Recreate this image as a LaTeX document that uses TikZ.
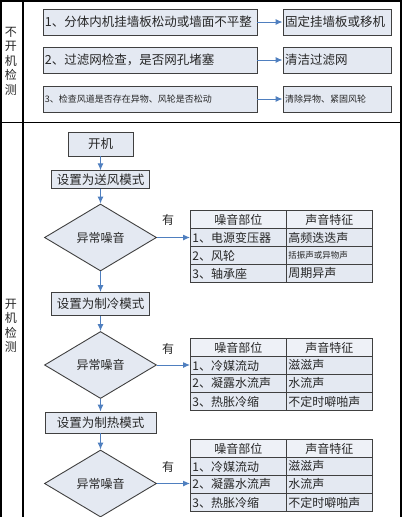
\documentclass[tikz,border=0pt]{standalone}
\usepackage{fontspec}
\setmainfont{Liberation Serif}
\newfontfamily\cjk{Noto Sans CJK SC}
\usetikzlibrary{shapes.geometric,arrows.meta}
\definecolor{boxfill}{HTML}{E4E9F2}
\definecolor{headfill}{HTML}{EEF1F7}
\definecolor{boxline}{HTML}{404040}
\definecolor{flowblue}{HTML}{4F7FBF}
\definecolor{inktext}{HTML}{262626}

\begin{document}
\begin{tikzpicture}[x=1pt, y=-1pt,
    checkbox/.style={draw=boxline, fill=boxfill, line width=0.9pt, text=inktext, inner xsep=2pt, inner ysep=0pt, minimum height=26pt, align=left, font=\cjk\fontsize{12.5}{15}\selectfont},
    flowbox/.style={draw=boxline, fill=boxfill, line width=0.9pt, text=inktext, inner sep=0pt, align=center, font=\cjk\fontsize{12.5}{15}\selectfont},
    decision/.style={diamond, draw=boxline, fill=boxfill, line width=0.9pt, text=inktext, inner sep=0pt, minimum width=112pt, minimum height=67pt, font=\cjk\fontsize{12}{14}\selectfont},
    cell/.style={draw=boxline, fill=boxfill, line width=0.9pt, text=inktext, anchor=north west, minimum height=18pt, inner xsep=2pt, inner ysep=0pt, align=left, font=\cjk\fontsize{12}{14}\selectfont},
    headcell/.style={cell, fill=headfill, align=center},
    colA/.style={text width=92pt},
    colB/.style={text width=82pt},
    side/.style={align=center, text=inktext, font=\cjk\fontsize{12}{14.5}\selectfont},
    frame/.style={line width=1.6pt, black},
    >={Latex[length=7pt,width=6pt]},
    flow/.style={->, flowblue, line width=1pt},
]
    \useasboundingbox (0,0) rectangle (403,517);

    % frame
    \draw[frame] (1,1) rectangle (401,520);
    \draw[frame] (23,1) -- (23,520);
    \draw[frame] (1,122.5) -- (401,122.5);

    \node[side] (offlbl) at (11,61) {不\\开\\机\\检\\测};
    \node[side] (onlbl) at (11,326) {开\\机\\检\\测};

    % checks without power
    \node[checkbox, text width=210pt] (c1) at (150,22) {1、分体内机挂墙板松动或墙面不平整};
    \node[checkbox, text width=104pt] (f1) at (337,22) {固定挂墙板或移机};
    \node[checkbox, text width=210pt] (c2) at (150,60) {2、过滤网检查，是否网孔堵塞};
    \node[checkbox, text width=104pt] (f2) at (337,60) {清洁过滤网};
    \node[checkbox, text width=210pt, font=\cjk\fontsize{9}{11}\selectfont] (c3) at (150,99) {3、检查风道是否存在异物、风轮是否松动};
    \node[checkbox, text width=104pt, font=\cjk\fontsize{9}{11}\selectfont] (f3) at (337,99) {清除异物、紧固风轮};

    \draw[flow] (c1) -- (f1);
    \draw[flow] (c2) -- (f2);
    \draw[flow] (c3) -- (f3);

    % checks with power
    \node[flowbox, minimum width=65pt, minimum height=24pt] (start) at (100.5,144) {开机};
    \node[flowbox, minimum width=98pt, minimum height=17.5pt] (fan) at (100.5,179.5) {设置为送风模式};
    \node[decision] (d1) at (100.5,237.5) {异常噪音};
    \node[flowbox, minimum width=98pt, minimum height=23pt] (cool) at (100.5,304) {设置为制冷模式};
    \node[decision] (d2) at (100.5,365) {异常噪音};
    \node[flowbox, minimum width=111pt, minimum height=21pt] (heat) at (100.5,422.5) {设置为制热模式};
    \node[decision] (d3) at (100.5,483.5) {异常噪音};

    \draw[flow] (start) -- (fan);
    \draw[flow] (fan) -- (d1);
    \draw[flow] (d1) -- (cool);
    \draw[flow] (cool) -- (d2);
    \draw[flow] (d2) -- (heat);
    \draw[flow] (heat) -- (d3);

    % fan mode table
    \node[headcell, colA] (t1h1) at (190,210) {噪音部位};
    \node[headcell, colB] (t1h2) at (286,210) {声音特征};
    \node[cell, colA] (t1a1) at (190,228) {1、电源变压器};
    \node[cell, colB] (t1b1) at (286,228) {高频迭迭声};
    \node[cell, colA] (t1a2) at (190,246) {2、风轮};
    \node[cell, colB, font=\cjk\fontsize{8.5}{10}\selectfont] (t1b2) at (286,246) {括振声或异物声};
    \node[cell, colA] (t1a3) at (190,264) {3、轴承座};
    \node[cell, colB] (t1b3) at (286,264) {周期异声};

    % cooling mode table
    \node[headcell, colA] (t2h1) at (190,338) {噪音部位};
    \node[headcell, colB] (t2h2) at (286,338) {声音特征};
    \node[cell, colA] (t2a1) at (190,356) {1、冷媒流动};
    \node[cell, colB] (t2b1) at (286,356) {滋滋声};
    \node[cell, colA] (t2a2) at (190,374) {2、凝露水流声};
    \node[cell, colB] (t2b2) at (286,374) {水流声};
    \node[cell, colA] (t2a3) at (190,392) {3、热胀冷缩};
    \node[cell, colB] (t2b3) at (286,392) {不定时噼啪声};

    % heating mode table
    \node[headcell, colA] (t3h1) at (190,439) {噪音部位};
    \node[headcell, colB] (t3h2) at (286,439) {声音特征};
    \node[cell, colA] (t3a1) at (190,457) {1、冷媒流动};
    \node[cell, colB] (t3b1) at (286,457) {滋滋声};
    \node[cell, colA] (t3a2) at (190,475) {2、凝露水流声};
    \node[cell, colB] (t3b2) at (286,475) {水流声};
    \node[cell, colA] (t3a3) at (190,493) {3、热胀冷缩};
    \node[cell, colB] (t3b3) at (286,493) {不定时噼啪声};

    \draw[flow] (d1.east) -- (d1.east -| t1a1.west);
    \draw[flow] (d2.east) -- (d2.east -| t2a1.west);
    \draw[flow] (d3.east) -- (d3.east -| t3a2.west);

    \node[side] (yes1) at (168,220) {有};
    \node[side] (yes2) at (168,349) {有};
    \node[side] (yes3) at (168,467) {有};
\end{tikzpicture}
\end{document}
